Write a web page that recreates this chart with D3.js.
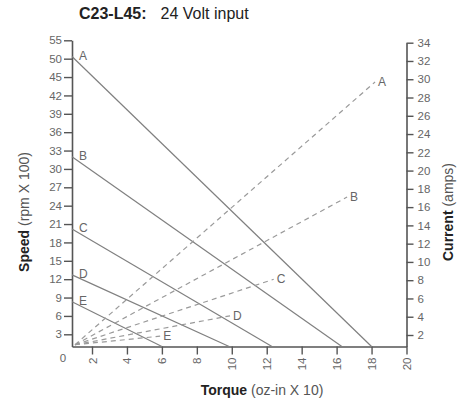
<!DOCTYPE html>
<html><head><meta charset="utf-8">
<script src="https://cdn.jsdelivr.net/npm/d3@7"></script>
<style>
body{margin:0;background:#fff;}
svg{display:block;font-family:"Liberation Sans",Arial,Helvetica,sans-serif;}
</style></head>
<body><svg id="c" width="468" height="402"></svg>
<script>
// ---- data ----
const motors = ["A","B","C","D","E"];
const noLoadSpeed = [50.6, 32.0, 20.2, 12.7, 8.3];     // rpm x100 at torque 0
const stallTorque = [18.0, 16.3, 12.3, 9.85, 6.0];      // oz-in x10 at speed 0
const currentEndTorque = [18.2, 16.6, 12.4, 9.9, 5.9]; // torque at end of current line
const currentEnd = [29.7, 17.1, 8.1, 4.1, 1.8];        // amps at end of current line
const currentStart = [0.3, 0.3];                        // [torque, amps] start near origin
const speedTicks = [3,6,9,12,15,18,21,24,27,30,33,36,39,42,45,50,55];
const currentTicks = [2,4,6,8,10,12,14,16,18,20,22,24,26,28,30,32,34];
const torqueTicks = [2,4,6,8,10,12,14,16,18,20];
const titleBold = "C23-L45:";
const titleRest = "24 Volt input";

// ---- layout ----
const svg = d3.select("#c");
const x0 = 72, x1 = 406.5, yB = 346.5;
const tStep = (x1 - 92) / 18;        // px per torque unit
const sStep = 18.375;                 // px per speed tick
const sFirst = 334.3;
const cFirst = 335, cStep = (335 - 42.7) / 16;

const x = d3.scaleLinear().domain([0, 2, 20]).range([x0, 92, x1]);
const y = d3.scaleLinear().domain([0, 3, 45, 50, 55])
  .range([yB, sFirst, sFirst - 14*sStep, sFirst - 15*sStep, sFirst - 16*sStep]);
const yc = d3.scaleLinear().domain([0, 2, 34]).range([yB, cFirst, cFirst - 16*cStep]);

const axisColor = "#555", tickText = "#666", lineColor = "#808080", dashColor = "#9a9a9a";

function styleAxis(g){
  g.selectAll(".domain").attr("stroke", axisColor).attr("stroke-width", 1.6);
  g.selectAll(".tick line").attr("stroke", axisColor).attr("stroke-width", 1.4);
  g.selectAll(".tick text").attr("fill", tickText).attr("font-size", 11.5)
    .attr("font-family", "Liberation Sans, Arial, sans-serif");
}

// left axis
svg.append("g").attr("transform", `translate(${x0},0)`)
  .call(d3.axisLeft(y).tickValues(speedTicks).tickSize(8).tickPadding(2).tickSizeOuter(0))
  .call(styleAxis);
// right axis
svg.append("g").attr("transform", `translate(${x1},0)`)
  .call(d3.axisRight(yc).tickValues(currentTicks).tickSize(7).tickPadding(4).tickSizeOuter(0))
  .call(styleAxis);
// bottom axis
const bx = svg.append("g").attr("transform", `translate(0,${yB})`)
  .call(d3.axisBottom(x).tickValues(torqueTicks).tickSize(8).tickSizeOuter(0))
  .call(styleAxis);
bx.selectAll(".tick text")
  .attr("transform", "rotate(-90)")
  .attr("text-anchor", "end")
  .attr("x", -11).attr("y", 0).attr("dy", "0.35em");

// origin label
svg.append("text").attr("x", x0 - 9).attr("y", yB + 11).attr("dy", "0.35em")
  .attr("text-anchor", "middle").attr("fill", tickText).attr("font-size", 11.5).text("0");

// speed lines (solid)
const plot = svg.append("g");
motors.forEach((m, i) => {
  plot.append("line")
    .attr("x1", x(0)).attr("y1", y(noLoadSpeed[i]))
    .attr("x2", x(stallTorque[i])).attr("y2", y(0))
    .attr("stroke", lineColor).attr("stroke-width", 1.2);
  plot.append("text")
    .attr("x", x(0) + 7).attr("y", y(noLoadSpeed[i]) - 1).attr("dy", "0.35em")
    .attr("fill", "#666").attr("font-size", 12).text(m);
});
// current lines (dashed)
motors.forEach((m, i) => {
  plot.append("line")
    .attr("x1", x(currentStart[0])).attr("y1", yc(currentStart[1]))
    .attr("x2", x(currentEndTorque[i])).attr("y2", yc(currentEnd[i]))
    .attr("stroke", dashColor).attr("stroke-width", 1.2)
    .attr("stroke-dasharray", "5,4");
  plot.append("text")
    .attr("x", x(currentEndTorque[i]) + 3).attr("y", yc(currentEnd[i])).attr("dy", "0.35em")
    .attr("fill", "#666").attr("font-size", 12).text(m);
});

// title
const t = svg.append("text").attr("x", 79).attr("y", 19).attr("font-size", 16).attr("fill", "#222");
t.append("tspan").attr("font-weight", "bold").text(titleBold);
t.append("tspan").attr("dx", 14).text(titleRest);

// axis titles
const xt = svg.append("text").attr("x", 262).attr("y", 395).attr("text-anchor", "middle")
  .attr("font-size", 14).attr("fill", "#222");
xt.append("tspan").attr("font-weight", "bold").text("Torque");
xt.append("tspan").attr("fill", "#555").text(" (oz-in X 10)");

const yt = svg.append("text").attr("transform", "translate(29,212) rotate(-90)")
  .attr("text-anchor", "middle").attr("font-size", 14).attr("fill", "#222");
yt.append("tspan").attr("font-weight", "bold").text("Speed");
yt.append("tspan").attr("fill", "#555").text(" (rpm X 100)");

const rt = svg.append("text").attr("transform", "translate(453,212) rotate(-90)")
  .attr("text-anchor", "middle").attr("font-size", 14).attr("fill", "#222");
rt.append("tspan").attr("font-weight", "bold").text("Current");
rt.append("tspan").attr("fill", "#555").text(" (amps)");
</script></body></html>
